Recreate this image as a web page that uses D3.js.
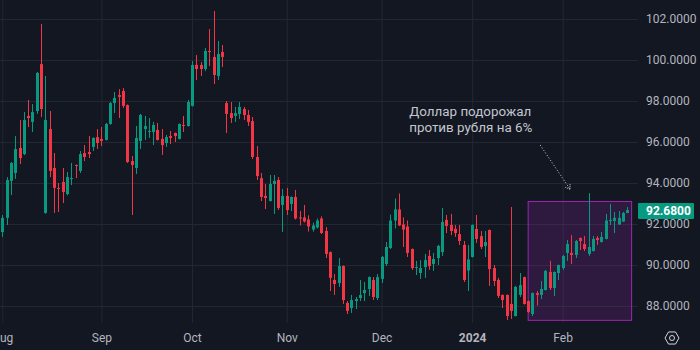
<!DOCTYPE html>
<html>
<head>
<meta charset="utf-8">
<script src="https://cdn.jsdelivr.net/npm/d3@7"></script>
<style>
  body { margin: 0; background: #131722; overflow: hidden; }
  text { font-family: Roboto, "Noto Sans", sans-serif; }
</style>
</head>
<body>
<div id="chart"></div>
<script>

// daily candles, Aug 2023 - Feb 2024 (USD/RUB)
const opens = [
    91.61, 92.30, 94.10, 94.49, 95.71, 95.41, 97.27, 96.98, 97.51, 99.80,
    92.54, 96.63, 94.73, 93.76, 94.05, 93.46, 94.20, 94.88, 94.59, 95.46,
    95.51, 95.76, 96.24, 96.15, 96.10, 96.88, 97.90, 98.29, 98.49, 97.80,
    95.07, 94.73, 96.05, 96.63, 96.49, 96.49, 96.59, 96.15, 95.95, 96.29,
    96.44, 96.15, 96.83, 96.78, 97.76, 99.76, 99.76, 99.56, 100.44, 100.15,
    99.22, 100.39, 97.90, 97.41, 97.27, 97.37, 97.61, 97.32, 97.02, 95.27,
    94.24, 93.37, 93.12, 93.95, 94.15, 92.93, 93.37, 92.98, 93.32, 92.32,
    92.32, 92.22, 91.73, 91.83, 92.27, 91.66, 90.63, 89.27, 89.12, 89.95,
    88.15, 87.90, 88.24, 88.39, 88.63, 88.83, 89.27, 88.39, 89.32, 90.05,
    90.83, 92.17, 92.71, 91.98, 91.88, 90.78, 89.85, 89.61, 89.90, 90.44,
    90.05, 90.34, 90.63, 92.20, 91.95, 91.76, 91.51, 90.98, 89.73, 90.39,
    91.76, 91.41, 90.93, 91.71, 89.85, 89.27, 88.54, 88.54, 88.10, 87.51,
    88.54, 89.41, 88.24, 87.61, 88.63, 88.54, 88.78, 89.66, 88.88, 89.61,
    89.85, 90.59, 90.59, 90.49, 91.32, 91.02, 90.54, 90.68, 91.32, 91.12,
    91.27, 92.15, 92.15, 91.98, 92.12, 92.54
];
const highs = [
    92.44, 94.29, 95.02, 96.29, 97.07, 97.46, 98.05, 97.85, 99.42, 101.76,
    99.22, 97.51, 95.46, 94.00, 94.73, 94.54, 94.98, 94.90, 95.56, 95.85,
    96.29, 96.22, 96.63, 96.73, 96.93, 97.95, 98.44, 98.58, 98.63, 97.83,
    95.32, 96.78, 97.37, 97.27, 97.17, 96.98, 96.93, 96.63, 96.34, 96.54,
    96.46, 96.90, 97.27, 98.05, 99.95, 100.24, 99.90, 100.59, 101.51, 102.39,
    100.93, 100.73, 98.00, 97.95, 97.71, 97.95, 97.71, 97.56, 97.22, 95.80,
    94.49, 93.95, 94.39, 94.39, 94.29, 93.71, 93.76, 93.34, 93.66, 92.63,
    92.93, 92.42, 92.07, 92.27, 92.37, 91.85, 90.66, 89.56, 90.34, 89.98,
    88.24, 88.54, 88.44, 89.27, 89.17, 89.44, 89.41, 89.56, 90.44, 91.12,
    92.46, 93.24, 93.49, 92.32, 92.17, 90.81, 90.20, 90.24, 90.54, 90.73,
    90.59, 90.98, 92.78, 92.44, 92.49, 91.95, 91.95, 91.17, 90.98, 91.98,
    92.44, 91.66, 91.66, 91.73, 90.00, 89.37, 88.56, 88.56, 92.83, 88.98,
    89.61, 89.43, 88.27, 88.66, 88.73, 89.22, 89.76, 90.20, 89.68, 90.02,
    90.49, 91.22, 91.46, 91.22, 91.34, 91.41, 93.51, 91.41, 91.41, 91.61,
    92.49, 92.98, 92.59, 92.63, 92.59, 92.83
];
const lows = [
    91.37, 91.95, 93.41, 94.20, 94.93, 95.36, 96.73, 96.49, 97.37, 97.22,
    92.50, 94.29, 92.54, 92.59, 93.02, 93.40, 93.90, 94.24, 94.49, 95.07,
    95.22, 95.56, 95.66, 95.80, 96.07, 96.85, 97.41, 97.17, 97.66, 94.98,
    92.44, 94.44, 95.66, 96.10, 96.20, 95.85, 96.07, 95.37, 95.76, 95.90,
    96.00, 96.12, 96.49, 96.75, 97.73, 99.02, 99.22, 99.46, 99.71, 98.83,
    99.02, 99.66, 96.44, 96.93, 96.98, 97.12, 97.07, 96.78, 95.17, 94.15,
    93.12, 92.73, 93.10, 92.49, 92.68, 91.61, 92.44, 92.63, 92.22, 91.93,
    92.07, 91.63, 91.63, 91.78, 91.51, 90.34, 88.73, 88.54, 88.93, 88.10,
    87.61, 87.66, 87.85, 88.24, 88.24, 88.49, 88.29, 88.29, 89.12, 89.95,
    90.78, 91.78, 91.90, 90.88, 90.39, 89.76, 89.51, 89.32, 89.37, 89.76,
    89.71, 90.00, 90.44, 91.56, 91.46, 91.37, 90.98, 89.17, 88.73, 90.37,
    91.07, 90.78, 90.39, 88.98, 88.98, 88.39, 87.90, 87.32, 87.37, 87.49,
    88.44, 88.07, 87.66, 87.51, 88.02, 88.34, 88.76, 88.78, 88.49, 89.27,
    89.76, 90.20, 90.05, 90.34, 90.73, 90.68, 90.44, 90.66, 90.98, 91.10,
    91.25, 91.95, 91.56, 91.95, 92.10, 92.52
];
const closes = [
    92.30, 94.15, 94.98, 95.66, 95.22, 97.07, 97.17, 97.46, 99.37, 97.61,
    97.07, 94.59, 93.76, 93.71, 93.56, 94.29, 94.24, 94.83, 95.41, 95.27,
    95.41, 96.20, 95.95, 96.05, 96.88, 97.90, 98.15, 98.20, 97.76, 95.02,
    94.88, 96.20, 97.32, 96.78, 96.54, 96.83, 96.10, 95.85, 96.24, 96.20,
    96.29, 96.88, 96.78, 97.95, 99.76, 99.56, 99.56, 100.44, 100.39, 99.27,
    100.29, 100.15, 97.37, 97.17, 97.41, 97.71, 97.32, 96.98, 95.27, 94.34,
    93.32, 93.27, 93.95, 94.10, 92.78, 93.37, 92.68, 93.32, 92.27, 92.27,
    92.12, 91.88, 91.93, 92.17, 91.56, 90.54, 89.37, 89.07, 89.95, 88.29,
    87.76, 88.29, 88.34, 88.54, 88.78, 89.41, 88.44, 89.41, 90.39, 90.88,
    92.17, 92.71, 91.93, 91.73, 90.59, 89.85, 89.90, 89.85, 90.24, 89.95,
    90.29, 90.93, 92.10, 91.90, 91.66, 91.56, 91.17, 89.27, 90.27, 91.95,
    91.27, 90.88, 91.12, 89.80, 89.22, 88.49, 88.29, 87.51, 87.76, 88.93,
    89.02, 88.10, 87.71, 88.63, 88.54, 88.83, 89.71, 88.88, 89.66, 90.00,
    90.44, 91.02, 90.49, 91.17, 91.17, 90.78, 90.88, 91.27, 91.22, 91.37,
    92.17, 92.20, 92.30, 92.30, 92.54, 92.68
];

// index of the first trading day of each month
const monthTicks = [0, 23, 44, 66, 88, 109, 130];
const monthLabels = ["Aug", "Sep", "Oct", "Nov", "Dec", "2024", "Feb"];
const priceTicks = [88, 90, 92, 94, 96, 98, 100, 102];
const lastPrice = 92.68;

// highlighted range + note
const boxDays = [122, 146];
const boxPrices = [87.3, 93.1];
const noteLines = ["Доллар подорожал", "против рубля на 6%"];
const notePos = [94.4, 97.27];
const arrowFrom = [124.8, 95.85], arrowTo = [131.7, 93.7];

const width = 700, height = 350;
const plotRight = 638, plotBottom = 323;
const up = "#089981", down = "#f23645", textColor = "#b2b5be", gridColor = "#232732";

const svg = d3.select("#chart")
    .append("svg")
    .attr("width", width)
    .attr("height", height);

svg.append("rect")
    .attr("width", width)
    .attr("height", height)
    .attr("fill", "#131722");

const x = d3.scaleLinear()
    .domain([0, 145])
    .range([2.3, 627.3]);

const y = d3.scaleLinear()
    .domain([88, 102])
    .range([306, 19]);

// grid
svg.append("g")
    .call(d3.axisRight(y).tickValues(priceTicks).tickSize(plotRight).tickFormat(""))
    .call(g => g.select(".domain").remove())
    .call(g => g.selectAll("line").attr("stroke", gridColor));

svg.append("g")
    .call(d3.axisBottom(x).tickValues(monthTicks).tickSize(plotBottom).tickFormat(""))
    .call(g => g.select(".domain").remove())
    .call(g => g.selectAll("line").attr("stroke", gridColor));

// highlight box
svg.append("rect")
    .attr("x", x(boxDays[0]))
    .attr("y", y(boxPrices[1]))
    .attr("width", x(boxDays[1]) - x(boxDays[0]))
    .attr("height", y(boxPrices[0]) - y(boxPrices[1]))
    .attr("fill", "rgba(156, 39, 176, 0.2)")
    .attr("stroke", "#9c27b0")
    .attr("stroke-width", 1);

// candles
const candles = d3.range(opens.length).map(i => ({
    i, o: opens[i], h: highs[i], l: lows[i], c: closes[i]
}));

const cg = svg.append("g");
cg.selectAll("line")
    .data(candles)
    .enter().append("line")
    .attr("x1", d => Math.round(x(d.i)) + 0.5)
    .attr("x2", d => Math.round(x(d.i)) + 0.5)
    .attr("y1", d => y(d.h))
    .attr("y2", d => y(d.l))
    .attr("stroke", d => d.c >= d.o ? up : down)
    .attr("stroke-width", 1);

cg.selectAll("rect")
    .data(candles)
    .enter().append("rect")
    .attr("x", d => Math.round(x(d.i)) - 1)
    .attr("width", 3)
    .attr("y", d => y(Math.max(d.o, d.c)))
    .attr("height", d => Math.max(1, Math.abs(y(d.o) - y(d.c))))
    .attr("fill", d => d.c >= d.o ? up : down);

// axes
svg.append("g")
    .attr("transform", `translate(${plotRight},0)`)
    .call(d3.axisRight(y).tickValues(priceTicks).tickSize(0).tickPadding(8).tickFormat(d3.format(".4f")))
    .call(g => g.select(".domain").remove())
    .call(g => g.selectAll("text")
        .attr("fill", textColor)
        .style("font-size", "12px")
        .style("font-family", "Roboto"));

svg.append("g")
    .attr("transform", `translate(0,${plotBottom})`)
    .call(d3.axisBottom(x).tickValues(monthTicks).tickSize(0).tickPadding(10)
        .tickFormat((d, i) => monthLabels[i]))
    .call(g => g.select(".domain").remove())
    .call(g => g.selectAll("text")
        .attr("fill", textColor)
        .style("font-size", "12px")
        .style("font-family", "Roboto")
        .style("font-weight", (d, i) => monthLabels[i] === "2024" ? "bold" : "normal"));

// last price tag
const py = Math.round(y(lastPrice));
svg.append("rect")
    .attr("x", plotRight)
    .attr("y", py - 7)
    .attr("width", 56)
    .attr("height", 16)
    .attr("rx", 1)
    .attr("fill", up);
svg.append("text")
    .attr("x", plotRight + 8)
    .attr("y", py + 1)
    .attr("dy", "0.35em")
    .attr("fill", "#ffffff")
    .style("font-size", "12px")
    .style("font-weight", "bold")
    .text(d3.format(".4f")(lastPrice));

// note + dotted arrow
svg.append("text")
    .attr("fill", "#c3c6ce")
    .style("font-size", "13.4px")
    .selectAll("tspan")
    .data(noteLines)
    .enter().append("tspan")
    .attr("x", x(notePos[0]))
    .attr("y", (d, i) => y(notePos[1]) + i * 16)
    .text(d => d);

const ax1 = x(arrowFrom[0]), ay1 = y(arrowFrom[1]);
const ax2 = x(arrowTo[0]), ay2 = y(arrowTo[1]);
svg.append("line")
    .attr("x1", ax1).attr("y1", ay1)
    .attr("x2", ax2).attr("y2", ay2)
    .attr("stroke", "#d1d4dc")
    .attr("stroke-width", 1)
    .attr("stroke-dasharray", "1,2");

const ang = Math.atan2(ay2 - ay1, ax2 - ax1);
[-0.6, 0.6].forEach(a => {
    svg.append("line")
        .attr("x1", ax2).attr("y1", ay2)
        .attr("x2", ax2 - 6 * Math.cos(ang + a))
        .attr("y2", ay2 - 6 * Math.sin(ang + a))
        .attr("stroke", "#d1d4dc")
        .attr("stroke-width", 1)
        .attr("stroke-dasharray", "1,1");
});

// settings icon
const gx = 672, gy = 338;
const hex = d3.range(6).map(k => [gx + 7 * Math.cos(Math.PI / 3 * k), gy + 7 * Math.sin(Math.PI / 3 * k)]);
svg.append("path")
    .attr("d", d3.line()(hex) + "Z")
    .attr("fill", "none")
    .attr("stroke", "#d1d4dc")
    .attr("stroke-width", 1);
svg.append("circle")
    .attr("cx", gx).attr("cy", gy).attr("r", 2.5)
    .attr("fill", "none")
    .attr("stroke", "#d1d4dc")
    .attr("stroke-width", 1);

</script>
</body>
</html>
